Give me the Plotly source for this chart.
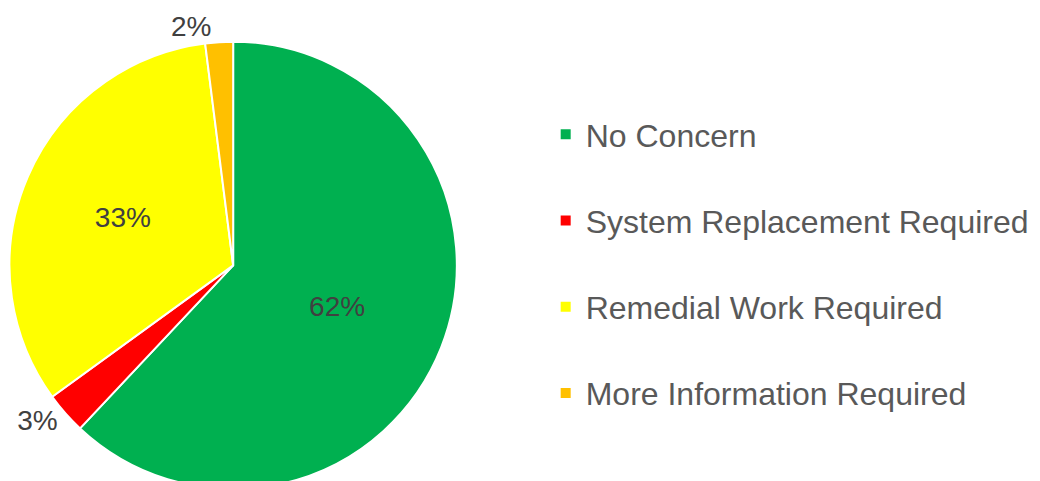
import plotly.graph_objects as go

# ---------------------------------------------------
# DATA
# ---------------------------------------------------

categories = [
    'No Concern',
    'System Replacement Required',
    'Remedial Work Required',
    'More Information Required'
]
shares = [62, 3, 33, 2]
slice_colors = ['#00B050', '#FF0000', '#FFFF00', '#FFC000']
text_positions = ['inside', 'outside', 'inside', 'outside']

# extra blank line gives the roomy legend spacing
legend_labels = [c + '<br>&nbsp;' for c in categories]

# ---------------------------------------------------
# PIE
# ---------------------------------------------------

fig = go.Figure()

fig.add_trace(
    go.Pie(
        labels=legend_labels,
        values=shares,
        customdata=categories,
        sort=False,
        direction='clockwise',
        rotation=0,
        marker=dict(
            colors=slice_colors,
            line=dict(color='white', width=2)
        ),
        textinfo='percent',
        texttemplate='%{value}%',
        textposition=text_positions,
        insidetextorientation='horizontal',
        textfont=dict(family='Arial, Liberation Sans', size=28, color='#404040'),
        insidetextfont=dict(color='#404040'),
        outsidetextfont=dict(color='#404040'),
        domain=dict(x=[0.0, 0.433], y=[0.0, 0.93]),
        hovertemplate='%{customdata}: %{value}%<extra></extra>'
    )
)

# ---------------------------------------------------
# LAYOUT
# ---------------------------------------------------

fig.update_layout(
    width=1040,
    height=481,
    margin=dict(l=0, r=0, t=0, b=0, autoexpand=False),
    paper_bgcolor='white',
    plot_bgcolor='white',
    font=dict(family='Arial, Liberation Sans', color='#595959'),
    showlegend=True,
    legend=dict(
        x=0.517,
        xanchor='left',
        y=0.425,
        yanchor='middle',
        valign='top',
        font=dict(size=32, color='#595959'),
        bgcolor='rgba(0,0,0,0)'
    )
)

fig.write_html('out.html')
